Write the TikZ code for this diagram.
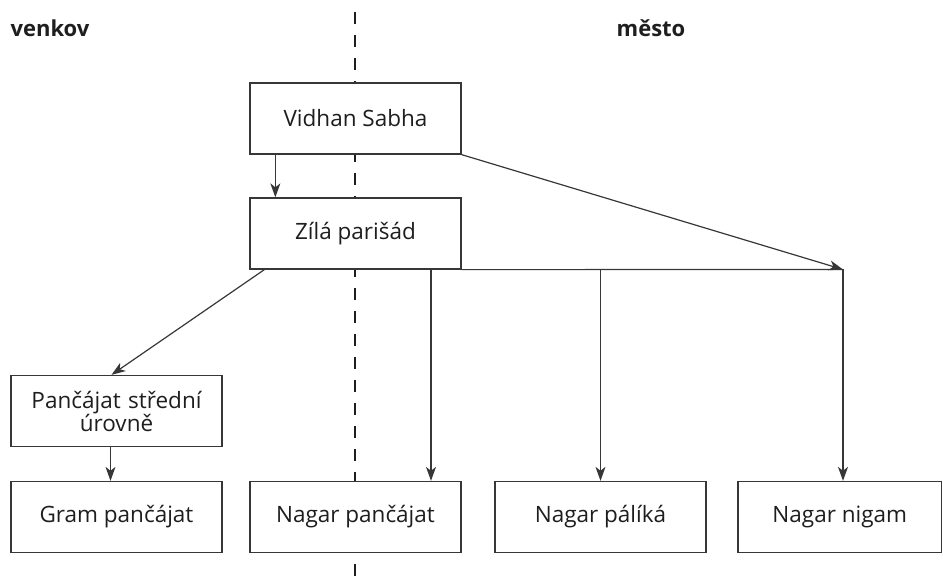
\documentclass[tikz,border=0pt]{standalone}
\usepackage{fontspec}
\setmainfont{Open Sans}
\usepackage{tikz}
\usetikzlibrary{arrows.meta}
\definecolor{linegray}{RGB}{55,55,55}
\definecolor{textgray}{RGB}{30,30,30}

\tikzset{
  box/.style={draw=linegray,fill=white,line width=1.3pt,minimum width=211pt,minimum height=71pt,
    inner sep=0pt,align=center,text=textgray,font=\fontsize{22.5}{26}\selectfont},
  head/.style={text=textgray,font=\fontsize{22}{26}\selectfont\bfseries},
  arr/.style={draw=linegray,line width=1.2pt,-{Stealth[length=14pt,width=10pt,inset=4pt]}},
  link/.style={draw=linegray,line width=1.2pt},
  divider/.style={draw=textgray,line width=2.4pt,dash pattern=on 12pt off 11pt}
}

\begin{document}
\begin{tikzpicture}[x=1pt,y=-1pt]
\useasboundingbox (0,0) rectangle (943,585);

% venkov / mesto
\draw[divider] (355,12) -- (355,585);
\node[head,anchor=west] (venkov) at (7,28) {venkov};
\node[head] (mesto) at (651,28) {město};

% boxes
\node[box] (vidhan) at (355.5,118.5) {Vidhan Sabha};
\node[box] (zila) at (355.5,233.5) {Zílá parišád};
\node[box,text width=200pt] (stredni) at (116.5,411) {Pančájat střední\\[-3pt] úrovně};
\node[box] (gram) at (116.5,517) {Gram pančájat};
\node[box] (npancajat) at (355.5,517) {Nagar pančájat};
\node[box] (npalika) at (600.5,517) {Nagar pálíká};
\node[box,minimum width=203.5pt] (nnigam) at (839.75,517) {Nagar nigam};

% branch points
\coordinate (corner) at (843,269.5);
\coordinate (b1) at (431,269.5);
\coordinate (b2) at (600.5,269.5);

% arrows
\draw[arr] ([xshift=26pt]vidhan.south west) -- ([xshift=26pt]zila.north west);
\draw[arr] (vidhan.south east) -- (corner);
\draw[link] (zila.south east) -- (corner);
\draw[arr] (corner) -- (corner |- nnigam.north);
\draw[arr] (b1) -- (b1 |- npancajat.north);
\draw[arr] (b2) -- (npalika.north);
\draw[arr] ([xshift=15pt]zila.south west) -- ([xshift=-5pt]stredni.north);
\draw[arr] ([xshift=-6pt]stredni.south) -- ([xshift=-6pt]gram.north);

\end{tikzpicture}
\end{document}
